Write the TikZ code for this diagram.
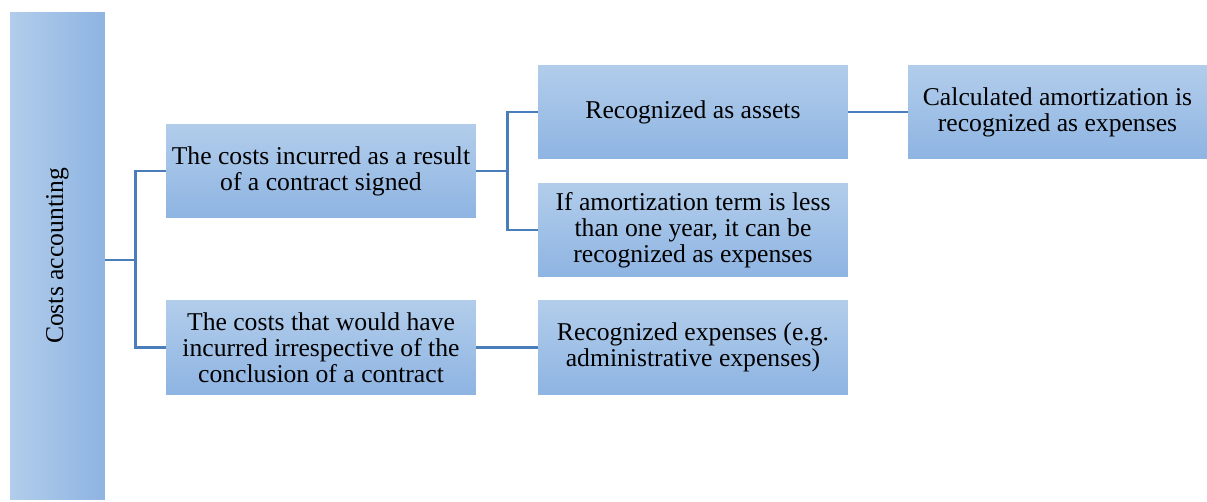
\documentclass[tikz,border=0pt]{standalone}
\usepackage{fontspec}
\setmainfont{Liberation Serif}
\usetikzlibrary{positioning}

\definecolor{boxtop}{RGB}{178,205,235}
\definecolor{boxbot}{RGB}{142,180,226}
\definecolor{linkblue}{RGB}{74,126,187}

\begin{document}
\begin{tikzpicture}[x=0.02cm,y=-0.02cm,
    box/.style={rectangle,top color=boxtop,bottom color=boxbot,
      minimum width=6.2cm,minimum height=1.88cm,inner sep=0pt,
      align=center,font=\fontsize{14.6}{14.8}\selectfont},
    link/.style={draw=linkblue,line width=1.4pt}]
  \useasboundingbox (0,0) rectangle (1207,501);

  % left column
  \node[rectangle,left color=boxtop,right color=boxbot,inner sep=0pt,
    minimum width=1.9cm,minimum height=9.76cm,
    font=\fontsize{14.6}{14.8}\selectfont] (costs) at (57.5,256)
    {\rotatebox{90}{Costs accounting}};

  % cost groups
  \node[box] (incurred) at (321,171) {The costs incurred as a result\\of a contract signed};
  \node[box] (irrespective) at (321,347.5) {The costs that would have\\incurred irrespective of the\\conclusion of a contract};

  % treatment
  \node[box] (assets) at (693,112) {Recognized as assets};
  \node[box] (shortterm) at (693,230) {If amortization term is less\\than one year, it can be\\recognized as expenses};
  \node[box] (admin) at (693,347.5) {Recognized expenses (e.g.\\administrative expenses)};
  \node[box,minimum width=5.98cm] (amort) at (1057.5,112) {Calculated amortization is\\recognized as expenses};

  % connectors
  \draw[link] ([yshift=-0.08cm]costs.east) -- ++(30,0) coordinate (fork1);
  \draw[link] (fork1) |- (incurred.west);
  \draw[link] (fork1) |- (irrespective.west);
  \draw[link] (incurred.east) -- ++(31,0) coordinate (fork2);
  \draw[link] (fork2) |- (assets.west);
  \draw[link] (fork2) |- (shortterm.west);
  \draw[link] (assets) -- (amort);
  \draw[link] (irrespective) -- (admin);
\end{tikzpicture}
\end{document}
